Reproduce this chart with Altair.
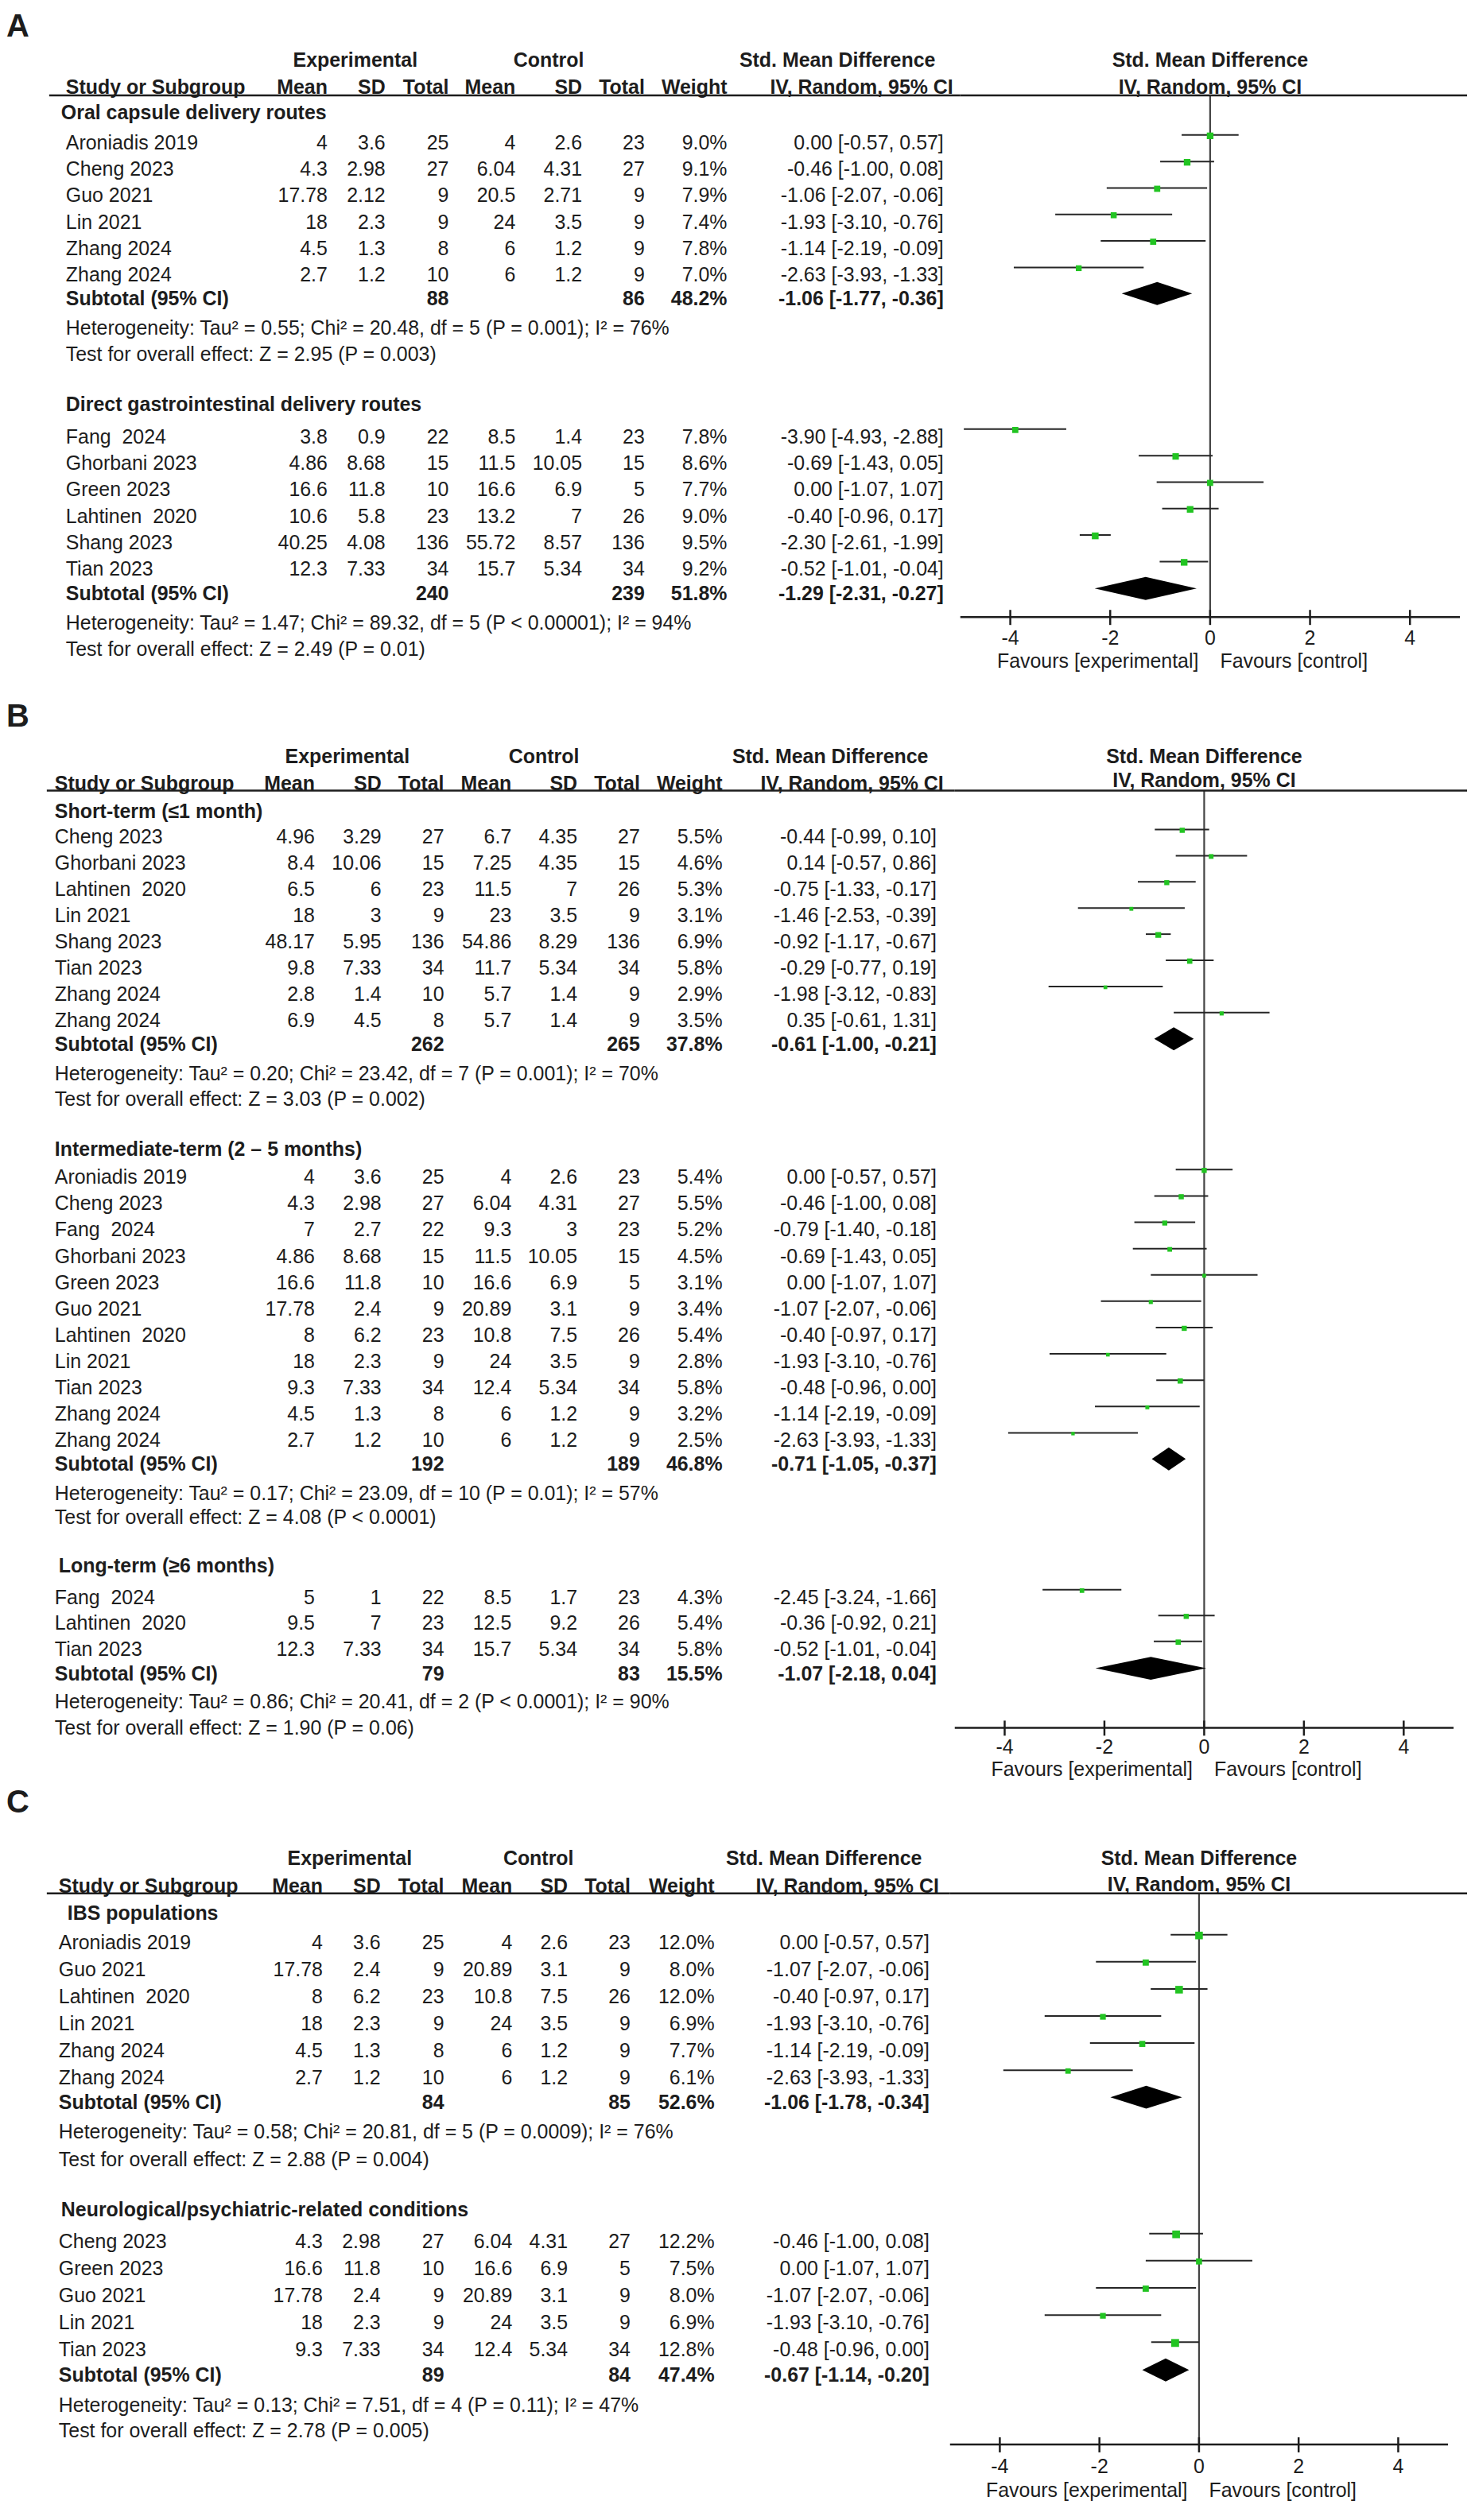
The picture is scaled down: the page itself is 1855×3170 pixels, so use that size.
import altair as alt
import pandas as pd

FONT = "Liberation Sans"
FS = 25
INK = "#1d1d1d"
GREEN = "#22c422"
NBSP = "\u00a0"

# ======================= DATA =======================
# ---------- Panel A : delivery routes ----------
A1_TITLE = "Oral capsule delivery routes"
A1_STUDY = ["Aroniadis 2019", "Cheng 2023", "Guo 2021", "Lin 2021", "Zhang 2024", "Zhang 2024"]
A1_EXP_MEAN = [4, 4.3, 17.78, 18, 4.5, 2.7]
A1_EXP_SD = [3.6, 2.98, 2.12, 2.3, 1.3, 1.2]
A1_EXP_N = [25, 27, 9, 9, 8, 10]
A1_CTL_MEAN = [4, 6.04, 20.5, 24, 6, 6]
A1_CTL_SD = [2.6, 4.31, 2.71, 3.5, 1.2, 1.2]
A1_CTL_N = [23, 27, 9, 9, 9, 9]
A1_WEIGHT = [9.0, 9.1, 7.9, 7.4, 7.8, 7.0]
A1_SMD = [0.00, -0.46, -1.06, -1.93, -1.14, -2.63]
A1_LOW = [-0.57, -1.00, -2.07, -3.10, -2.19, -3.93]
A1_HIGH = [0.57, 0.08, -0.06, -0.76, -0.09, -1.33]
A1_SUBTOTAL = [88, 86, 48.2, -1.06, -1.77, -0.36]
A1_HET = "Tau² = 0.55; Chi² = 20.48, df = 5 (P = 0.001); I² = 76%"
A1_TEST = "Z = 2.95 (P = 0.003)"

A2_TITLE = "Direct gastrointestinal delivery routes"
A2_STUDY = ["Fang  2024", "Ghorbani 2023", "Green 2023", "Lahtinen  2020", "Shang 2023", "Tian 2023"]
A2_EXP_MEAN = [3.8, 4.86, 16.6, 10.6, 40.25, 12.3]
A2_EXP_SD = [0.9, 8.68, 11.8, 5.8, 4.08, 7.33]
A2_EXP_N = [22, 15, 10, 23, 136, 34]
A2_CTL_MEAN = [8.5, 11.5, 16.6, 13.2, 55.72, 15.7]
A2_CTL_SD = [1.4, 10.05, 6.9, 7, 8.57, 5.34]
A2_CTL_N = [23, 15, 5, 26, 136, 34]
A2_WEIGHT = [7.8, 8.6, 7.7, 9.0, 9.5, 9.2]
A2_SMD = [-3.90, -0.69, 0.00, -0.40, -2.30, -0.52]
A2_LOW = [-4.93, -1.43, -1.07, -0.96, -2.61, -1.01]
A2_HIGH = [-2.88, 0.05, 1.07, 0.17, -1.99, -0.04]
A2_SUBTOTAL = [240, 239, 51.8, -1.29, -2.31, -0.27]
A2_HET = "Tau² = 1.47; Chi² = 89.32, df = 5 (P < 0.00001); I² = 94%"
A2_TEST = "Z = 2.49 (P = 0.01)"

# ---------- Panel B : follow-up duration ----------
B1_TITLE = "Short-term (≤1 month)"
B1_STUDY = ["Cheng 2023", "Ghorbani 2023", "Lahtinen  2020", "Lin 2021", "Shang 2023", "Tian 2023", "Zhang 2024", "Zhang 2024"]
B1_EXP_MEAN = [4.96, 8.4, 6.5, 18, 48.17, 9.8, 2.8, 6.9]
B1_EXP_SD = [3.29, 10.06, 6, 3, 5.95, 7.33, 1.4, 4.5]
B1_EXP_N = [27, 15, 23, 9, 136, 34, 10, 8]
B1_CTL_MEAN = [6.7, 7.25, 11.5, 23, 54.86, 11.7, 5.7, 5.7]
B1_CTL_SD = [4.35, 4.35, 7, 3.5, 8.29, 5.34, 1.4, 1.4]
B1_CTL_N = [27, 15, 26, 9, 136, 34, 9, 9]
B1_WEIGHT = [5.5, 4.6, 5.3, 3.1, 6.9, 5.8, 2.9, 3.5]
B1_SMD = [-0.44, 0.14, -0.75, -1.46, -0.92, -0.29, -1.98, 0.35]
B1_LOW = [-0.99, -0.57, -1.33, -2.53, -1.17, -0.77, -3.12, -0.61]
B1_HIGH = [0.10, 0.86, -0.17, -0.39, -0.67, 0.19, -0.83, 1.31]
B1_SUBTOTAL = [262, 265, 37.8, -0.61, -1.00, -0.21]
B1_HET = "Tau² = 0.20; Chi² = 23.42, df = 7 (P = 0.001); I² = 70%"
B1_TEST = "Z = 3.03 (P = 0.002)"

B2_TITLE = "Intermediate-term (2 – 5 months)"
B2_STUDY = ["Aroniadis 2019", "Cheng 2023", "Fang  2024", "Ghorbani 2023", "Green 2023", "Guo 2021",
            "Lahtinen  2020", "Lin 2021", "Tian 2023", "Zhang 2024", "Zhang 2024"]
B2_EXP_MEAN = [4, 4.3, 7, 4.86, 16.6, 17.78, 8, 18, 9.3, 4.5, 2.7]
B2_EXP_SD = [3.6, 2.98, 2.7, 8.68, 11.8, 2.4, 6.2, 2.3, 7.33, 1.3, 1.2]
B2_EXP_N = [25, 27, 22, 15, 10, 9, 23, 9, 34, 8, 10]
B2_CTL_MEAN = [4, 6.04, 9.3, 11.5, 16.6, 20.89, 10.8, 24, 12.4, 6, 6]
B2_CTL_SD = [2.6, 4.31, 3, 10.05, 6.9, 3.1, 7.5, 3.5, 5.34, 1.2, 1.2]
B2_CTL_N = [23, 27, 23, 15, 5, 9, 26, 9, 34, 9, 9]
B2_WEIGHT = [5.4, 5.5, 5.2, 4.5, 3.1, 3.4, 5.4, 2.8, 5.8, 3.2, 2.5]
B2_SMD = [0.00, -0.46, -0.79, -0.69, 0.00, -1.07, -0.40, -1.93, -0.48, -1.14, -2.63]
B2_LOW = [-0.57, -1.00, -1.40, -1.43, -1.07, -2.07, -0.97, -3.10, -0.96, -2.19, -3.93]
B2_HIGH = [0.57, 0.08, -0.18, 0.05, 1.07, -0.06, 0.17, -0.76, 0.00, -0.09, -1.33]
B2_SUBTOTAL = [192, 189, 46.8, -0.71, -1.05, -0.37]
B2_HET = "Tau² = 0.17; Chi² = 23.09, df = 10 (P = 0.01); I² = 57%"
B2_TEST = "Z = 4.08 (P < 0.0001)"

B3_TITLE = "Long-term (≥6 months)"
B3_STUDY = ["Fang  2024", "Lahtinen  2020", "Tian 2023"]
B3_EXP_MEAN = [5, 9.5, 12.3]
B3_EXP_SD = [1, 7, 7.33]
B3_EXP_N = [22, 23, 34]
B3_CTL_MEAN = [8.5, 12.5, 15.7]
B3_CTL_SD = [1.7, 9.2, 5.34]
B3_CTL_N = [23, 26, 34]
B3_WEIGHT = [4.3, 5.4, 5.8]
B3_SMD = [-2.45, -0.36, -0.52]
B3_LOW = [-3.24, -0.92, -1.01]
B3_HIGH = [-1.66, 0.21, -0.04]
B3_SUBTOTAL = [79, 83, 15.5, -1.07, -2.18, 0.04]
B3_HET = "Tau² = 0.86; Chi² = 20.41, df = 2 (P < 0.0001); I² = 90%"
B3_TEST = "Z = 1.90 (P = 0.06)"

# ---------- Panel C : population ----------
C1_TITLE = "IBS populations"
C1_STUDY = ["Aroniadis 2019", "Guo 2021", "Lahtinen  2020", "Lin 2021", "Zhang 2024", "Zhang 2024"]
C1_EXP_MEAN = [4, 17.78, 8, 18, 4.5, 2.7]
C1_EXP_SD = [3.6, 2.4, 6.2, 2.3, 1.3, 1.2]
C1_EXP_N = [25, 9, 23, 9, 8, 10]
C1_CTL_MEAN = [4, 20.89, 10.8, 24, 6, 6]
C1_CTL_SD = [2.6, 3.1, 7.5, 3.5, 1.2, 1.2]
C1_CTL_N = [23, 9, 26, 9, 9, 9]
C1_WEIGHT = [12.0, 8.0, 12.0, 6.9, 7.7, 6.1]
C1_SMD = [0.00, -1.07, -0.40, -1.93, -1.14, -2.63]
C1_LOW = [-0.57, -2.07, -0.97, -3.10, -2.19, -3.93]
C1_HIGH = [0.57, -0.06, 0.17, -0.76, -0.09, -1.33]
C1_SUBTOTAL = [84, 85, 52.6, -1.06, -1.78, -0.34]
C1_HET = "Tau² = 0.58; Chi² = 20.81, df = 5 (P = 0.0009); I² = 76%"
C1_TEST = "Z = 2.88 (P = 0.004)"

C2_TITLE = "Neurological/psychiatric-related conditions"
C2_STUDY = ["Cheng 2023", "Green 2023", "Guo 2021", "Lin 2021", "Tian 2023"]
C2_EXP_MEAN = [4.3, 16.6, 17.78, 18, 9.3]
C2_EXP_SD = [2.98, 11.8, 2.4, 2.3, 7.33]
C2_EXP_N = [27, 10, 9, 9, 34]
C2_CTL_MEAN = [6.04, 16.6, 20.89, 24, 12.4]
C2_CTL_SD = [4.31, 6.9, 3.1, 3.5, 5.34]
C2_CTL_N = [27, 5, 9, 9, 34]
C2_WEIGHT = [12.2, 7.5, 8.0, 6.9, 12.8]
C2_SMD = [-0.46, 0.00, -1.07, -1.93, -0.48]
C2_LOW = [-1.00, -1.07, -2.07, -3.10, -0.96]
C2_HIGH = [0.08, 1.07, -0.06, -0.76, 0.00]
C2_SUBTOTAL = [89, 84, 47.4, -0.67, -1.14, -0.20]
C2_HET = "Tau² = 0.13; Chi² = 7.51, df = 4 (P = 0.11); I² = 47%"
C2_TEST = "Z = 2.78 (P = 0.005)"

TICKS = [-4, -2, 0, 2, 4]
HEAD_TOP = ["Experimental", "Control", "Std. Mean Difference"]
HEAD_COLS = ["Mean", "SD", "Total", "Mean", "SD", "Total", "Weight"]
HEAD_CI = "IV, Random, 95% CI"
FAV_LEFT = "Favours [experimental]"
FAV_RIGHT = "Favours [control]"


def group(title, study, em, esd, en, cm, csd, cn, w, smd, lo, hi, sub, het, test):
    return dict(title=title, study=study, em=em, esd=esd, en=en, cm=cm, csd=csd, cn=cn,
                w=w, smd=smd, lo=lo, hi=hi, sub=sub, het=het, test=test)


A_GROUPS = [
    group(A1_TITLE, A1_STUDY, A1_EXP_MEAN, A1_EXP_SD, A1_EXP_N, A1_CTL_MEAN, A1_CTL_SD, A1_CTL_N,
          A1_WEIGHT, A1_SMD, A1_LOW, A1_HIGH, A1_SUBTOTAL, A1_HET, A1_TEST),
    group(A2_TITLE, A2_STUDY, A2_EXP_MEAN, A2_EXP_SD, A2_EXP_N, A2_CTL_MEAN, A2_CTL_SD, A2_CTL_N,
          A2_WEIGHT, A2_SMD, A2_LOW, A2_HIGH, A2_SUBTOTAL, A2_HET, A2_TEST),
]
B_GROUPS = [
    group(B1_TITLE, B1_STUDY, B1_EXP_MEAN, B1_EXP_SD, B1_EXP_N, B1_CTL_MEAN, B1_CTL_SD, B1_CTL_N,
          B1_WEIGHT, B1_SMD, B1_LOW, B1_HIGH, B1_SUBTOTAL, B1_HET, B1_TEST),
    group(B2_TITLE, B2_STUDY, B2_EXP_MEAN, B2_EXP_SD, B2_EXP_N, B2_CTL_MEAN, B2_CTL_SD, B2_CTL_N,
          B2_WEIGHT, B2_SMD, B2_LOW, B2_HIGH, B2_SUBTOTAL, B2_HET, B2_TEST),
    group(B3_TITLE, B3_STUDY, B3_EXP_MEAN, B3_EXP_SD, B3_EXP_N, B3_CTL_MEAN, B3_CTL_SD, B3_CTL_N,
          B3_WEIGHT, B3_SMD, B3_LOW, B3_HIGH, B3_SUBTOTAL, B3_HET, B3_TEST),
]
C_GROUPS = [
    group(C1_TITLE, C1_STUDY, C1_EXP_MEAN, C1_EXP_SD, C1_EXP_N, C1_CTL_MEAN, C1_CTL_SD, C1_CTL_N,
          C1_WEIGHT, C1_SMD, C1_LOW, C1_HIGH, C1_SUBTOTAL, C1_HET, C1_TEST),
    group(C2_TITLE, C2_STUDY, C2_EXP_MEAN, C2_EXP_SD, C2_EXP_N, C2_CTL_MEAN, C2_CTL_SD, C2_CTL_N,
          C2_WEIGHT, C2_SMD, C2_LOW, C2_HIGH, C2_SUBTOTAL, C2_HET, C2_TEST),
]

# ======================= LAYOUT (page pixels) =======================
LAYOUT_A = dict(top=8, bot=880, fx0=1211, fx1=1841, lab_y=30, h1=72, h2=106, fh2=106, hl=116, hl_x0=62,
                study_x=83, exp_c=448, ctl_c=692, smd_c=1056, iv_r=1202,
                cols=[413, 486, 566, 650, 734, 813, 917, 1190],
                axis_y=774, tick_y=801, fav_y=830,
                groups=[dict(title_x=77, title=138, first=176, step=33.4, sub=373, het=410, test=443),
                        dict(title_x=83, title=506, first=547, step=33.4, sub=745, het=782, test=815)])
LAYOUT_B = dict(top=880, bot=2245, fx0=1204, fx1=1833, lab_y=900, h1=950, h2=984, fh2=980, hl=993, hl_x0=59,
                study_x=69, exp_c=438, ctl_c=686, smd_c=1047, iv_r=1190,
                cols=[397, 481, 560, 645, 728, 807, 911, 1181],
                axis_y=2175, tick_y=2200, fav_y=2228,
                groups=[dict(title_x=69, title=1019, first=1052, step=33.0, sub=1313, het=1350, test=1382),
                        dict(title_x=69, title=1446, first=1481, step=33.2, sub=1843, het=1880, test=1910),
                        dict(title_x=74, title=1971, first=2011, step=32.5, sub=2107, het=2143, test=2176)])
LAYOUT_C = dict(top=2245, bot=3162, fx0=1198, fx1=1826, lab_y=2270, h1=2340, h2=2375, fh2=2373, hl=2384, hl_x0=59,
                study_x=74, exp_c=441, ctl_c=679, smd_c=1039, iv_r=1184,
                cols=[407, 480, 560, 646, 716, 795, 901, 1172],
                axis_y=3079, tick_y=3107, fav_y=3137,
                groups=[dict(title_x=85, title=2409, first=2446, step=34.2, sub=2648, het=2685, test=2720),
                        dict(title_x=77, title=2783, first=2823, step=34.25, sub=2992, het=3030, test=3062)])

STYLES = {
    "label": dict(align="left", fontWeight="bold", fontSize=40),
    "bc": dict(align="center", fontWeight="bold"),
    "bl": dict(align="left", fontWeight="bold"),
    "br": dict(align="right", fontWeight="bold"),
    "rl": dict(align="left", fontWeight="normal"),
    "rr": dict(align="right", fontWeight="normal"),
}


def fmt(v):
    return f"{v:g}"


def ci_text(e, lo, hi):
    return f"{e:.2f} [{lo:.2f}, {hi:.2f}]"


def keep_spaces(s):
    # SVG collapses repeated spaces; keep the double gaps seen in the reference
    return s.replace("  ", " " + NBSP)


def build_panel(label, groups, L):
    top, bot = L["top"], L["bot"]
    H = bot - top
    fx0, fx1 = L["fx0"], L["fx1"]
    Wt, Wf = fx0 - 8, fx1 - fx0
    xs = alt.Scale(domain=[8, fx0], nice=False, zero=False)
    ys = alt.Scale(domain=[top, bot], nice=False, zero=False, reverse=True)
    fxs = alt.Scale(domain=[-5, 5], nice=False, zero=False)

    def TX(f):
        return alt.X(f, type="quantitative", scale=xs, axis=None)

    def FX(f):
        return alt.X(f, type="quantitative", scale=fxs, axis=None)

    def Y(f):
        return alt.Y(f, type="quantitative", scale=ys, axis=None)

    texts = []

    def add(x, y, t, kind):
        texts.append(dict(x=x, y=y, text=t, kind=kind))

    cols = L["cols"]
    add(8, L["lab_y"], label, "label")
    for c, t in zip([L["exp_c"], L["ctl_c"], L["smd_c"]], HEAD_TOP):
        add(c, L["h1"], t, "bc")
    add(L["study_x"], L["h2"], "Study or Subgroup", "bl")
    for x, t in zip(cols[:7], HEAD_COLS):
        add(x, L["h2"], t, "br")
    add(L["iv_r"], L["h2"], HEAD_CI, "br")

    ci_rows, sq_rows, dia_rows = [], [], []
    for gi, (g, gl) in enumerate(zip(groups, L["groups"])):
        add(gl["title_x"], gl["title"], g["title"], "bl")
        for i, name in enumerate(g["study"]):
            y = gl["first"] + i * gl["step"]
            add(L["study_x"], y, keep_spaces(name), "rl")
            vals = [fmt(g["em"][i]), fmt(g["esd"][i]), fmt(g["en"][i]), fmt(g["cm"][i]),
                    fmt(g["csd"][i]), fmt(g["cn"][i]), f"{g['w'][i]:.1f}%",
                    ci_text(g["smd"][i], g["lo"][i], g["hi"][i])]
            for x, t in zip(cols, vals):
                add(x, y, t, "rr")
            ci_rows.append(dict(lo=g["lo"][i], hi=g["hi"][i], y=y - 10))
            sq_rows.append(dict(smd=g["smd"][i], y=y - 9, w=g["w"][i]))
        en, cn, w, e, lo, hi = g["sub"]
        ysub = gl["sub"]
        add(L["study_x"], ysub, "Subtotal (95% CI)", "bl")
        add(cols[2], ysub, fmt(en), "br")
        add(cols[5], ysub, fmt(cn), "br")
        add(cols[6], ysub, f"{w:.1f}%", "br")
        add(cols[7], ysub, ci_text(e, lo, hi), "br")
        add(L["study_x"], gl["het"], "Heterogeneity: " + g["het"], "rl")
        add(L["study_x"], gl["test"], "Test for overall effect: " + g["test"], "rl")
        yc = ysub - 7
        for xv, dy in zip([lo, e, hi], [0, 14.5, 0]):
            dia_rows.append(dict(x=xv, y1=yc - dy, y2=yc + dy, gid=f"{label}{gi}"))

    tdf = pd.DataFrame(texts)
    layers = []
    for k, st in STYLES.items():
        sub = tdf[tdf.kind == k]
        if len(sub) == 0:
            continue
        kw = dict(baseline="middle", font=FONT, fontSize=FS, color=INK)
        kw.update(st)
        layers.append(alt.Chart(sub).mark_text(**kw).encode(x=TX("x"), y=Y("y"), text="text:N"))
    hl_df = pd.DataFrame({"x": [L["hl_x0"]], "x2": [fx0], "y": [L["hl"]]})
    layers.append(alt.Chart(hl_df).mark_rule(color=INK, strokeWidth=2.5).encode(
        x=TX("x"), x2="x2:Q", y=Y("y")))
    table = alt.layer(*layers).properties(width=Wt, height=H)

    # ---------------- forest plot ----------------
    fl = []
    zero_df = pd.DataFrame({"x": [0], "y": [L["hl"]], "y2": [L["axis_y"]]})
    fl.append(alt.Chart(zero_df).mark_rule(color="#444444", strokeWidth=2.2).encode(
        x=FX("x"), y=Y("y"), y2="y2:Q"))
    fl.append(alt.Chart(pd.DataFrame({"y": [L["hl"]]})).mark_rule(color=INK, strokeWidth=2.5).encode(
        x=alt.value(0), x2=alt.value(1850 - fx0), y=Y("y")))
    hdr_df = pd.DataFrame({"x": [0, 0], "y": [L["h1"], L["fh2"]], "text": ["Std. Mean Difference", HEAD_CI]})
    fl.append(alt.Chart(hdr_df).mark_text(baseline="middle", align="center", font=FONT, fontSize=FS,
                                           fontWeight="bold", color=INK).encode(x=FX("x"), y=Y("y"), text="text:N"))
    axis_df = pd.DataFrame({"x": [-5], "x2": [5], "y": [L["axis_y"]]})
    fl.append(alt.Chart(axis_df).mark_rule(color=INK, strokeWidth=2.5).encode(x=FX("x"), x2="x2:Q", y=Y("y")))
    tick_df = pd.DataFrame({"x": TICKS, "y": [L["axis_y"] - 9] * len(TICKS), "y2": [L["axis_y"] + 10] * len(TICKS),
                            "ty": [L["tick_y"]] * len(TICKS), "text": [str(t) for t in TICKS]})
    fl.append(alt.Chart(tick_df).mark_rule(color=INK, strokeWidth=2.5).encode(x=FX("x"), y=Y("y"), y2="y2:Q"))
    fl.append(alt.Chart(tick_df).mark_text(baseline="middle", align="center", font=FONT, fontSize=FS,
                                            color=INK).encode(x=FX("x"), y=Y("ty"), text="text:N"))
    fav_df = pd.DataFrame({"x": [-0.23], "y": [L["fav_y"]], "text": [FAV_LEFT]})
    fav_df2 = pd.DataFrame({"x": [0.2], "y": [L["fav_y"]], "text": [FAV_RIGHT]})
    fl.append(alt.Chart(fav_df).mark_text(baseline="middle", align="right", font=FONT, fontSize=FS,
                                           color=INK).encode(x=FX("x"), y=Y("y"), text="text:N"))
    fl.append(alt.Chart(fav_df2).mark_text(baseline="middle", align="left", font=FONT, fontSize=FS,
                                            color=INK).encode(x=FX("x"), y=Y("y"), text="text:N"))
    fl.append(alt.Chart(pd.DataFrame(ci_rows)).mark_rule(color="#262626", strokeWidth=2).encode(
        x=FX("lo"), x2="hi:Q", y=Y("y")))
    fl.append(alt.Chart(pd.DataFrame(sq_rows)).mark_square(filled=True, color=GREEN, opacity=1).encode(
        x=FX("smd"), y=Y("y"),
        size=alt.Size("w:Q", scale=alt.Scale(domain=[0, 13], range=[0, 100]), legend=None)))
    fl.append(alt.Chart(pd.DataFrame(dia_rows)).mark_area(color="black", orient="vertical", opacity=1).encode(
        x=FX("x"), y=Y("y1"), y2="y2:Q", detail="gid:N"))
    forest = alt.layer(*fl).properties(width=Wf, height=H)

    return alt.hconcat(table, forest, spacing=0, bounds="flush").resolve_scale(x="independent", y="independent")


panelA = build_panel("A", A_GROUPS, LAYOUT_A)
panelB = build_panel("B", B_GROUPS, LAYOUT_B)
panelC = build_panel("C", C_GROUPS, LAYOUT_C)

chart = (
    alt.vconcat(panelA, panelB, panelC, spacing=0)
    .properties(padding=0, background="white")
    .configure_view(stroke=None)
)

chart.save("out.html", embed_options={"renderer": "svg", "actions": False})
